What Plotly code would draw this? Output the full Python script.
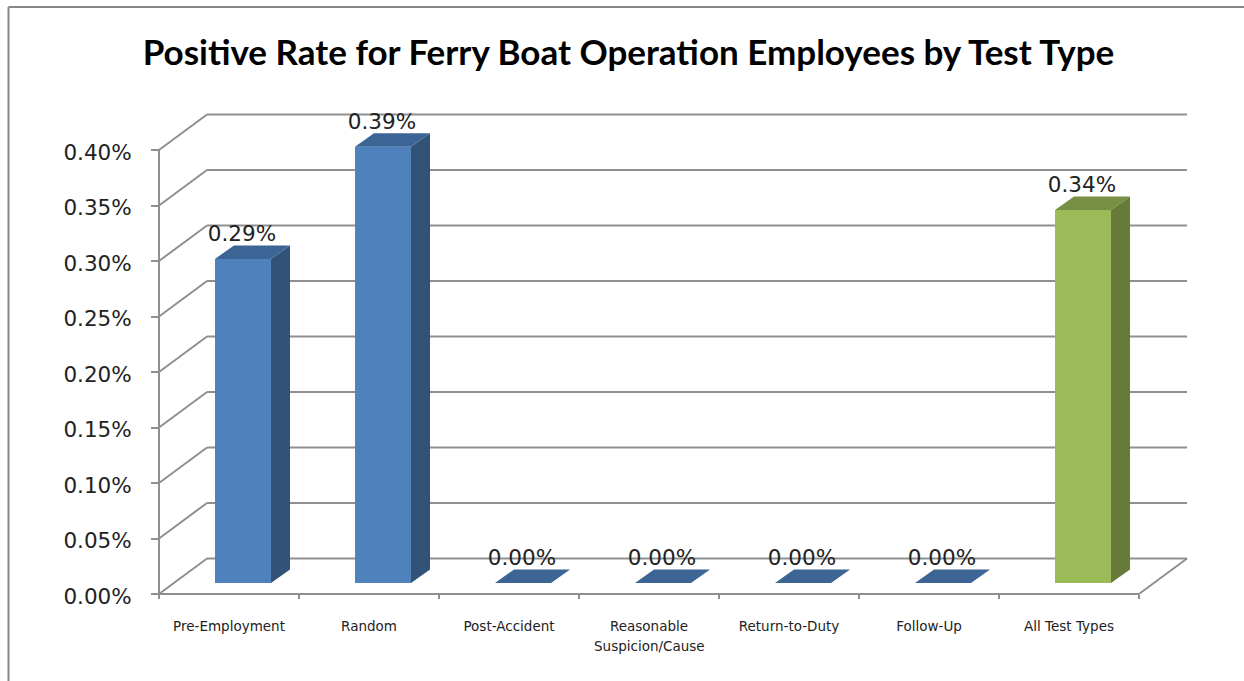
import plotly.graph_objects as go

categories = ["Pre-Employment", "Random", "Post-Accident", "Reasonable", "Return-to-Duty", "Follow-Up", "All Test Types"]
second_line = {3: "Suspicion/Cause"}
values = [0.292, 0.393, 0.0, 0.0, 0.0, 0.0, 0.336]
y_ticks = [0.0, 0.05, 0.10, 0.15, 0.20, 0.25, 0.30, 0.35, 0.40]

W, H = 1244, 681
X0, Y0, UX, UY = 159, 594, 140, 1110   # pixel anchor of the front plane and pixels per unit


def dx(px):
    return px / UX


def dy(px):
    return px / UY


WALL_X, WALL_Y = dx(48), dy(35.5)
BAR_SHIFT_X, BAR_SHIFT_Y = dx(14), dy(11)
SIDE_X, SIDE_Y = dx(19), dy(13.5)
BAR_W = 0.4
GRID = "#8f8f8f"
TEXT = "#222222"
n = len(categories)

fronts = ["#4F81BD"] * 6 + ["#9BBB59"]
sides = ["#335278"] * 6 + ["#667A3A"]
tops = ["#3C6494"] * 6 + ["#789044"]

shapes = []


def seg(x0, y0, x1, y1):
    shapes.append(dict(type="line", xref="x", yref="y", x0=x0, y0=y0, x1=x1, y1=y1,
                       layer="below", line=dict(color=GRID, width=2)))


for t in y_ticks:
    seg(0, t, WALL_X, t + WALL_Y)
    seg(WALL_X, t + WALL_Y, n + WALL_X, t + WALL_Y)
seg(0, 0, 0, y_ticks[-1])
seg(0, 0, n, 0)
seg(n, 0, n + WALL_X, WALL_Y)
# chart frame
for fx0, fy0, fx1, fy1 in [(8.5 / W, 0, 8.5 / W, 1 - 7 / H), (8.5 / W, 1 - 7 / H, 1, 1 - 7 / H)]:
    shapes.append(dict(type="line", xref="paper", yref="paper", x0=fx0, y0=fy0, x1=fx1, y1=fy1,
                       line=dict(color="#868686", width=2)))

fig = go.Figure()
centers = [i + 0.5 + BAR_SHIFT_X for i in range(n)]
fig.add_trace(go.Bar(x=centers, y=values, base=[BAR_SHIFT_Y] * n, width=BAR_W,
                     marker=dict(color=fronts, line=dict(width=0)), showlegend=False, hoverinfo="skip"))

for c, v, side, top in zip(centers, values, sides, tops):
    l, r = c - BAR_W / 2, c + BAR_W / 2
    b, t = BAR_SHIFT_Y, BAR_SHIFT_Y + v
    if v > 0:
        fig.add_trace(go.Scatter(x=[r, r + SIDE_X, r + SIDE_X, r, r],
                                 y=[b, b + SIDE_Y, t + SIDE_Y, t, b],
                                 mode="lines", fill="toself", fillcolor=side, line=dict(width=0),
                                 showlegend=False, hoverinfo="skip"))
    fig.add_trace(go.Scatter(x=[l, r, r + SIDE_X, l + SIDE_X, l],
                             y=[t, t, t + SIDE_Y, t + SIDE_Y, t],
                             mode="lines", fill="toself", fillcolor=top, line=dict(width=0),
                             showlegend=False, hoverinfo="skip"))

fig.add_trace(go.Scatter(x=[c - dx(1) for c in centers],
                         y=[BAR_SHIFT_Y + v + dy(23) for v in values],
                         text=[f"{v:.2f}%" for v in values], mode="text", textposition="middle center",
                         textfont=dict(family="DejaVu Sans", size=21.5, color=TEXT),
                         showlegend=False, hoverinfo="skip"))

annotations = [dict(x=i + 0.5, y=-dy(52), xref="x", yref="y", text=txt, showarrow=False,
                    font=dict(family="DejaVu Sans", size=13.5, color=TEXT))
               for i, txt in second_line.items()]

fig.update_layout(
    width=W, height=H, autosize=False, margin=dict(l=0, r=0, t=0, b=0),
    paper_bgcolor="white", plot_bgcolor="white", shapes=shapes, annotations=annotations,
    title=dict(text="<b>Positive Rate for Ferry Boat Operation Employees by Test Type</b>",
               x=628.5 / W, y=1 - 53 / H, xanchor="center", yanchor="middle", xref="paper", yref="paper",
               font=dict(family="Lato", size=35, color="black")),
    xaxis=dict(range=[-X0 / UX, (W - X0) / UX], anchor="free", position=(H - Y0) / H, showgrid=False, zeroline=False,
               tickmode="array", tickvals=[i + 0.5 for i in range(n)], ticktext=categories, ticks="",
               ticklabelstandoff=22, tickangle=0,
               tickfont=dict(family="DejaVu Sans", size=13.5, color=TEXT),
               minor=dict(tickmode="array", tickvals=list(range(n + 1)), ticks="outside", ticklen=4,
                          tickcolor=GRID, tickwidth=2, showgrid=False)),
    yaxis=dict(range=[-(H - Y0) / UY, Y0 / UY], anchor="free", position=X0 / W, showgrid=False, zeroline=False,
               tickmode="array", tickvals=y_ticks, ticktext=[f"{t:.2f}%" for t in y_ticks],
               ticks="outside", ticklen=8, tickcolor=GRID, tickwidth=2, ticklabelstandoff=15, ticklabelshift=2,
               tickfont=dict(family="DejaVu Sans", size=21.5, color=TEXT)),
)
fig.write_html("out.html", config=dict(displayModeBar=False),
               post_script="document.body.style.margin='0';document.documentElement.style.overflow='hidden';")
